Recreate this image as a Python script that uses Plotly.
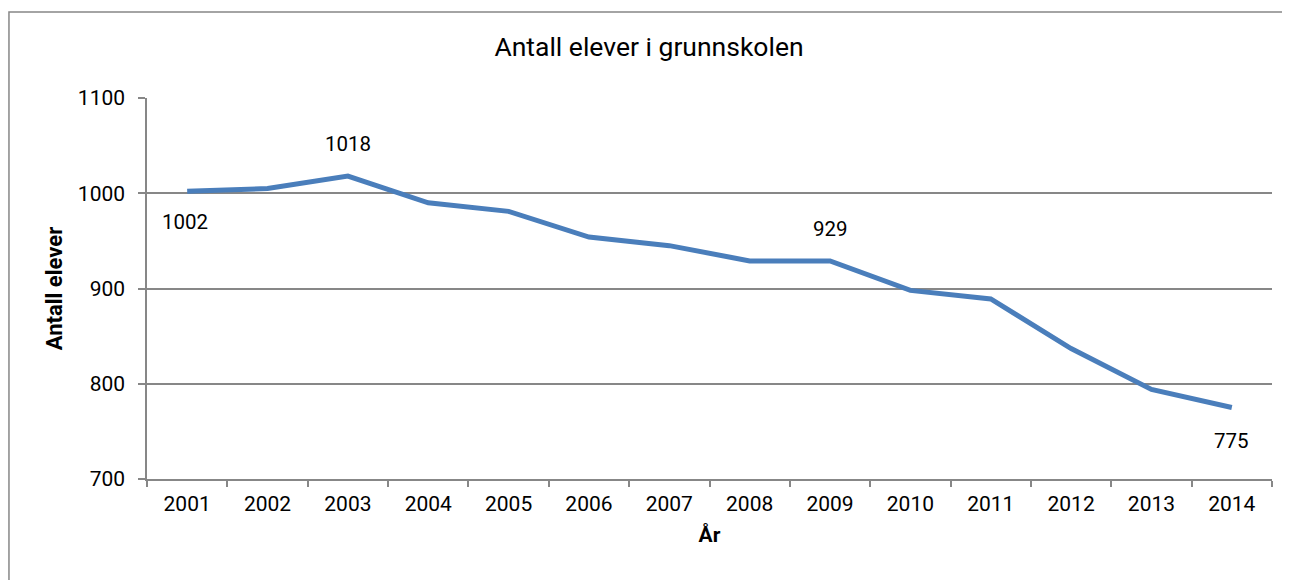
import plotly.graph_objects as go

years = ["2001", "2002", "2003", "2004", "2005", "2006", "2007",
         "2008", "2009", "2010", "2011", "2012", "2013", "2014"]
students = [1002, 1005, 1018, 990, 981, 954, 945, 929, 929, 898, 889, 837, 794, 775]
y_ticks = [700, 800, 900, 1000, 1100]

# labelled points: (index, vertical shift)
label_idx = [0, 2, 8, 13]
label_shift = [-31, 32, 32, -33]

FONT = "Roboto, Liberation Sans, sans-serif"
GRAY = "#878787"

fig = go.Figure()
fig.add_trace(go.Scatter(
    x=years, y=students, mode="lines",
    line=dict(color="#4A7EBB", width=5),
    hoverinfo="x+y", showlegend=False,
))

for i, s in zip(label_idx, label_shift):
    fig.add_annotation(
        x=i, y=students[i], xref="x", yref="y", text=str(students[i]),
        showarrow=False, yshift=s, xshift=-2 if i == 0 else 0,
        font=dict(family=FONT, size=20.5, color="#000000"),
    )

# outer chart frame
fig.add_shape(type="rect", xref="paper", yref="paper",
              x0=-0.1227, x1=1.2, y0=-0.35, y1=1.2257,
              line=dict(color=GRAY, width=1.5), fillcolor="rgba(0,0,0,0)",
              layer="below")

fig.update_layout(
    width=1282, height=572,
    margin=dict(l=139, r=18, t=90, b=101),
    paper_bgcolor="white", plot_bgcolor="white",
    font=dict(family=FONT, size=21, color="#000000"),
    title=dict(text="Antall elever i grunnskolen", x=0.5, xanchor="center",
               y=0.932, yanchor="middle",
               font=dict(family=FONT, size=26.5, color="#000000")),
    xaxis=dict(
        type="category", tickson="boundaries", ticks="outside", ticklen=6,
        tickcolor=GRAY, tickwidth=1.5, showline=True, linecolor=GRAY, linewidth=1.5,
        showgrid=False, tickfont=dict(family=FONT, size=21), ticklabelstandoff=5,
        title=dict(text="<b>År</b>", font=dict(family=FONT, size=21), standoff=12),
        range=[-0.5, len(years) - 0.5],
    ),
    yaxis=dict(
        range=[700, 1100], tickvals=y_ticks, ticks="outside", ticklen=7,
        tickcolor=GRAY, tickwidth=1.5, showline=True, linecolor=GRAY, linewidth=1.5,
        showgrid=True, gridcolor=GRAY, gridwidth=1.5, zeroline=False,
        tickfont=dict(family=FONT, size=21), ticklabelstandoff=9,
        title=dict(text="<b>Antall elever</b>", font=dict(family=FONT, size=22), standoff=9),
    ),
)

fig.write_html("out.html")
